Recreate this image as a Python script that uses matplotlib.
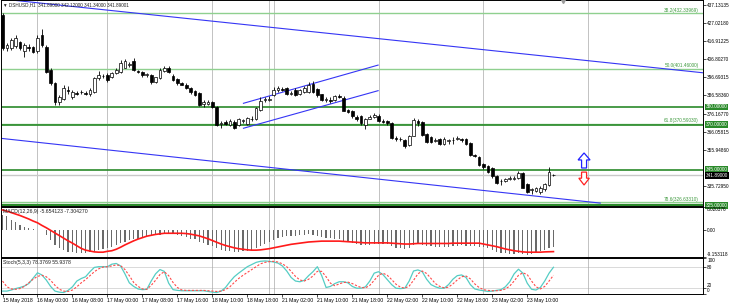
import numpy as np
import matplotlib
matplotlib.use("Agg")
import matplotlib.pyplot as plt
from matplotlib.patches import Polygon

plt.rcParams['font.family'] = ['Liberation Sans', 'DejaVu Sans']

# hourly candles DSHUSD,H1
opens = [431.4, 413.0, 413.0, 414.0, 416.3, 411.5, 413.5, 413.5, 411.0, 420.0,
         413.5, 400.5, 393.5, 382.8, 384.5, 389.5, 385.5, 388.0, 388.2, 388.0,
         387.0, 388.5, 396.0, 397.2, 397.8, 396.7, 399.0, 399.5, 402.0, 403.5,
         405.5, 400.0, 399.5, 398.0, 397.8, 394.0, 396.0, 400.0, 402.0, 397.3,
         395.5, 393.5, 392.5, 390.5, 389.0, 387.8, 381.5, 381.5, 382.5, 380.0,
         370.5, 371.5, 370.0, 371.5, 370.0, 372.0, 370.5, 373.0, 373.0, 378.5,
         383.8, 384.0, 386.8, 389.5, 390.0, 390.5, 387.5, 389.5, 387.0, 388.5,
         388.5, 393.0, 390.0, 387.0, 384.0, 384.0, 384.0, 386.0, 385.0, 378.5,
         378.0, 374.5, 375.0, 370.0, 373.5, 374.5, 375.0, 372.0, 372.0, 371.0,
         362.5, 362.0, 361.5, 359.0, 364.0, 372.0, 371.5, 365.0, 363.0, 361.0,
         362.0, 359.5, 361.0, 361.5, 362.0, 362.0, 362.0, 360.0, 353.0, 352.0,
         348.0, 347.0, 346.0, 341.5, 338.5, 338.5, 340.0, 340.0, 340.5, 343.0,
         337.0, 333.5, 333.0, 332.5, 334.0, 336.5, 342.0]
highs = [432.5, 416.0, 418.5, 420.0, 417.0, 415.5, 415.0, 414.0, 420.0, 423.5,
         414.5, 401.5, 394.0, 386.5, 392.0, 391.5, 389.5, 389.0, 389.5, 389.0,
         390.5, 397.0, 400.0, 398.5, 399.0, 399.8, 401.5, 406.0, 407.0, 405.0,
         407.5, 400.5, 400.0, 399.0, 398.5, 397.0, 401.5, 403.0, 403.0, 398.5,
         396.0, 394.0, 393.5, 391.0, 389.5, 388.5, 384.0, 384.0, 383.5, 380.5,
         372.0, 372.5, 373.0, 372.5, 374.0, 373.5, 374.5, 375.0, 380.0, 385.5,
         385.5, 386.0, 391.0, 391.5, 391.0, 391.0, 389.0, 390.5, 390.0, 391.5,
         394.0, 394.5, 390.5, 387.5, 385.5, 385.5, 386.5, 387.0, 386.0, 379.0,
         378.5, 375.5, 375.5, 374.0, 375.5, 376.5, 376.0, 373.0, 372.5, 371.5,
         363.5, 363.0, 362.0, 364.5, 374.0, 373.5, 372.0, 365.5, 363.5, 362.5,
         362.5, 363.0, 362.0, 363.0, 364.0, 362.5, 362.5, 360.5, 354.0, 352.5,
         348.5, 347.5, 346.5, 342.0, 339.5, 340.5, 341.5, 341.5, 344.0, 343.5,
         337.5, 335.0, 335.5, 336.0, 337.5, 346.5, 342.5]
lows = [412.0, 411.5, 412.0, 413.0, 412.0, 408.0, 411.5, 410.0, 410.0, 413.5,
        399.0, 392.5, 381.0, 381.0, 384.0, 387.0, 384.5, 386.5, 387.0, 386.5,
        386.0, 388.0, 395.0, 396.0, 394.0, 396.0, 398.5, 399.0, 401.5, 402.5,
        400.0, 399.0, 397.0, 397.0, 393.0, 393.5, 395.5, 399.5, 399.0, 394.5,
        392.5, 392.0, 390.0, 387.5, 386.0, 380.5, 380.0, 381.0, 379.5, 369.5,
        368.5, 370.0, 369.5, 367.5, 369.5, 371.0, 370.0, 372.0, 372.5, 378.0,
        383.0, 383.5, 386.0, 388.5, 389.0, 386.5, 386.5, 386.0, 386.5, 388.0,
        388.0, 388.0, 385.5, 383.5, 382.5, 382.0, 383.5, 385.0, 377.5, 376.5,
        374.0, 372.0, 370.0, 367.5, 373.0, 374.0, 371.5, 371.0, 370.0, 362.0,
        361.0, 361.0, 357.0, 358.0, 363.5, 369.5, 364.0, 360.0, 360.0, 360.5,
        359.0, 359.0, 359.5, 359.5, 361.5, 360.5, 359.0, 352.5, 352.0, 347.0,
        345.5, 343.0, 340.5, 337.0, 336.5, 338.0, 339.0, 339.0, 340.0, 334.5,
        332.0, 331.5, 332.5, 331.5, 333.0, 336.0, 341.5]
closes = [413.0, 414.5, 417.4, 418.5, 413.0, 414.5, 413.0, 410.7, 418.5, 414.6,
          399.5, 393.4, 382.8, 385.5, 390.6, 388.8, 388.5, 387.5, 388.5, 387.5,
          389.5, 396.0, 397.8, 397.4, 395.1, 399.0, 400.7, 404.5, 405.5, 403.8,
          400.7, 399.5, 397.8, 398.3, 394.0, 396.5, 400.7, 401.8, 399.5, 395.1,
          393.4, 392.5, 390.6, 388.3, 386.7, 381.1, 382.5, 383.0, 380.0, 370.0,
          371.0, 370.5, 372.2, 368.3, 373.3, 372.5, 373.8, 373.5, 379.5, 383.5,
          384.2, 384.5, 389.6, 390.5, 389.5, 387.0, 387.8, 386.5, 389.5, 390.5,
          392.5, 388.5, 386.5, 384.0, 384.3, 383.5, 386.0, 385.5, 378.0, 377.0,
          375.0, 373.5, 371.0, 373.5, 374.5, 375.5, 372.0, 371.5, 371.0, 362.5,
          362.0, 362.3, 358.0, 364.0, 372.5, 371.0, 364.5, 360.5, 360.5, 361.5,
          359.5, 362.0, 361.3, 361.8, 362.5, 361.5, 359.5, 353.0, 352.5, 347.5,
          346.5, 343.5, 341.5, 337.5, 338.8, 340.0, 340.3, 340.2, 343.0, 335.0,
          332.5, 334.0, 334.5, 335.0, 337.0, 343.5, 341.89]

macd_main = [5.3, 5.0, 3.6, 3.0, 1.9, 1.3, 0.7, 0.3, 0.1, 0.0,
             -1.5, -3.3, -5.0, -6.1, -6.7, -7.3, -7.6, -7.9, -7.9, -7.9,
             -7.6, -7.3, -6.7, -6.5, -6.2, -5.6, -5.0, -4.4, -3.9, -3.3,
             -3.1, -2.8, -2.4, -2.2, -2.0, -1.7, -1.6, -1.3, -1.2, -1.3,
             -1.6, -2.0, -2.2, -2.8, -3.1, -3.9, -4.4, -5.0, -5.3, -6.2,
             -6.8, -7.1, -7.2, -7.4, -7.3, -7.2, -7.0, -6.8, -6.2, -5.3,
             -4.6, -4.0, -3.3, -2.7, -2.3, -2.1, -1.9, -1.8, -1.7, -1.6,
             -1.4, -1.5, -1.8, -2.2, -2.5, -2.7, -2.8, -2.9, -3.5, -4.0,
             -4.4, -4.8, -5.2, -5.2, -5.0, -4.8, -4.8, -4.8, -4.8, -5.5,
             -5.9, -6.1, -6.4, -6.1, -5.2, -4.7, -4.9, -5.3, -5.5, -5.6,
             -5.8, -5.7, -5.6, -5.5, -5.3, -5.2, -5.3, -5.4, -5.5, -5.6,
             -5.8, -6.2, -6.7, -7.3, -7.7, -7.9, -8.0, -8.0, -7.9, -8.1,
             -8.3, -8.0, -7.6, -7.1, -6.7, -6.0, -5.654123]
macd_signal = [7.0, 6.6, 6.1, 5.6, 5.1, 4.5, 3.9, 3.2, 2.6, 1.7,
               0.9, 0.0, -0.9, -1.8, -2.7, -3.6, -4.4, -5.3, -6.2, -6.8,
               -7.1, -7.4, -7.5, -7.5, -7.2, -7.0, -6.5, -5.8, -5.0, -4.3,
               -3.6, -3.0, -2.5, -2.0, -1.7, -1.4, -1.2, -1.0, -1.0, -1.0,
               -1.0, -1.0, -1.1, -1.3, -1.6, -1.9, -2.4, -2.9, -3.5, -4.1,
               -4.7, -5.2, -5.6, -6.0, -6.3, -6.5, -6.7, -6.8, -6.8, -6.7,
               -6.5, -6.3, -6.0, -5.7, -5.4, -5.1, -4.8, -4.6, -4.4, -4.2,
               -4.0, -3.9, -3.8, -3.7, -3.7, -3.7, -3.7, -3.7, -3.8, -3.9,
               -4.0, -4.1, -4.2, -4.3, -4.3, -4.3, -4.3, -4.3, -4.3, -4.4,
               -4.5, -4.6, -4.7, -4.7, -4.6, -4.5, -4.5, -4.5, -4.5, -4.5,
               -4.5, -4.5, -4.5, -4.4, -4.4, -4.4, -4.4, -4.4, -4.4, -4.4,
               -4.7, -5.0, -5.3, -5.6, -6.0, -6.4, -6.7, -7.0, -7.2, -7.4,
               -7.5, -7.5, -7.5, -7.5, -7.4, -7.35, -7.30427]

stoch_k = [12, 12, 15, 19, 22, 26, 33, 48, 63, 57,
           43, 25, 12, 9, 8, 14, 24, 40, 47, 52,
           66, 78, 80, 80, 80, 87, 89, 82, 60, 35,
           25, 18, 16, 17, 40, 60, 72, 67, 34, 16,
           14, 13, 13, 13, 13, 13, 13, 11, 9, 8,
           12, 22, 38, 52, 62, 71, 80, 86, 92, 95,
           96, 95, 93, 90, 82, 68, 50, 40, 38, 42,
           55, 66, 80, 55, 22, 25, 33, 38, 38, 35,
           25, 20, 20, 24, 40, 62, 66, 58, 44, 30,
           20, 19, 20, 40, 68, 71, 66, 45, 30, 24,
           20, 20, 30, 45, 55, 57, 50, 30, 18, 15,
           13, 11, 12, 14, 16, 24, 38, 60, 73, 62,
           34, 17, 15, 22, 40, 62, 78.3769]
stoch_d = [40, 24, 18, 17, 19, 25, 35, 45, 53, 56,
           52, 42, 28, 17, 12, 11, 15, 24, 35, 44,
           55, 66, 74, 79, 80, 82, 85, 83, 72, 55,
           36, 25, 18, 17, 28, 42, 58, 66, 55, 36,
           22, 15, 14, 14, 14, 14, 14, 13, 12, 11,
           12, 16, 24, 36, 47, 56, 64, 72, 80, 88,
           92, 94, 95, 93, 88, 80, 67, 53, 43, 40,
           45, 54, 67, 67, 52, 34, 27, 32, 36, 37,
           33, 27, 22, 21, 28, 42, 56, 62, 56, 44,
           31, 23, 20, 26, 42, 60, 68, 61, 47, 33,
           25, 21, 23, 32, 43, 52, 54, 46, 32, 22,
           16, 14, 13, 13, 14, 18, 26, 40, 56, 63,
           58, 40, 24, 18, 25, 40, 55.9378]

time_ticks = [0, 8, 16, 24, 32, 40, 48, 56, 64, 72, 80, 88, 96, 104, 112, 120]
time_labels = ["15 May 2018", "16 May 00:00", "16 May 08:00", "17 May 00:00",
               "17 May 08:00", "17 May 16:00", "18 May 10:00", "18 May 18:00",
               "21 May 02:00", "21 May 10:00", "21 May 18:00", "22 May 02:00",
               "22 May 10:00", "22 May 18:00", "23 May 02:00", "23 May 10:00"]
separators = [8, 24, 48, 61, 62, 86, 110, 134]

price_ticks = [437.13135, 427.02180, 416.91225, 406.80270, 396.69315,
               386.58360, 376.16770, 366.05815, 355.94860, 335.72950]
levels = [380.0, 370.0, 345.0, 325.0]
fib_levels = [432.33969, 401.46000, 370.59030, 326.63310]
fib_names = ["38.2", "50.0", "61.8", "78.6"]
last_price = 341.89

# trend lines as (bar, price) pairs
channel_lines = [((-0.5, 440.4), (160.2, 399.1)),
                 ((-0.5, 362.5), (136.7, 326.3)),
                 ((55.1, 382.05), (85.9, 403.4)),
                 ((55.1, 368.1), (85.9, 389.1))]

n = len(closes)
x = np.arange(n)
o = np.array(opens); h = np.array(highs); l = np.array(lows); c = np.array(closes)

W, H = 730, 307
fig = plt.figure(figsize=(W / 100, H / 100), dpi=100)
left = 0.5 / W
wid = 702.5 / W
ax = fig.add_axes([left, 1 - 206 / H, wid, 206 / H])
ax2 = fig.add_axes([left, 1 - 257 / H, wid, 50 / H])
ax3 = fig.add_axes([left, 1 - 293.5 / H, wid, 35.5 / H])

fs = 3.7
rfs = 3.45  # right scale labels
xlim = (-0.46, 160.2)
for a in (ax, ax2, ax3):
    a.set_xlim(*xlim)
    for s in a.spines.values():
        s.set_linewidth(0.7)
    for b in separators:
        a.axvline(b, color='#707070', lw=0.6, ls=(0, (1.2, 1.2)), zorder=0)
    a.yaxis.tick_right()
    a.tick_params(axis='y', length=2, width=0.5, pad=1.0, labelsize=rfs)
    a.tick_params(axis='x', length=0, labelbottom=False)

# main chart
ax.set_ylim(324.67, 439.76)
for (x0, y0), (x1, y1) in channel_lines:
    ax.plot([x0, x1], [y0, y1], color='#3535f5', lw=0.8, zorder=2)
for lv, nm in zip(fib_levels, fib_names):
    ax.axhline(lv, color='#8fd08f', lw=1.0, zorder=1)
    ax.text(0.994, lv + 0.3, "%s(%.5f)" % (nm, lv), transform=ax.get_yaxis_transform(),
            ha='right', va='bottom', fontsize=3.4, color='#3f9a3f')
for lv in levels:
    ax.axhline(lv, color='#2a8a2a', lw=1.6 if lv == 325.0 else 1.2, zorder=1)
ax.axhline(last_price, color='#c8c8c8', lw=1.0, zorder=1)

up = c >= o
body_b = np.minimum(o, c)
body_h = np.maximum(np.abs(c - o), 0.3)
ax.vlines(x, l, h, color='black', lw=0.6, zorder=3)
ax.bar(x[up], body_h[up], bottom=body_b[up], width=0.62, color='white',
       edgecolor='black', lw=0.5, zorder=4)
ax.bar(x[~up], body_h[~up], bottom=body_b[~up], width=0.62, color='black',
       edgecolor='black', lw=0.5, zorder=4)

ax.set_yticks(price_ticks)
ax.set_yticklabels(["%.5f" % p for p in price_ticks])
for lv in levels:
    ax.text(1.0035, lv, "%.5f" % lv, transform=ax.get_yaxis_transform(), fontsize=rfs,
            color='white', va='center', ha='left', clip_on=False,
            bbox=dict(boxstyle='square,pad=0.2', fc='#2a8a2a', ec='none'))
ax.text(1.0035, last_price, "%.5f" % last_price, transform=ax.get_yaxis_transform(),
        fontsize=rfs, color='white', va='center', ha='left', clip_on=False,
        bbox=dict(boxstyle='square,pad=0.2', fc='black', ec='none'))

# buy / sell arrows
arr_bar = 133.0
up_arrow = [(arr_bar - 0.57, 345.9), (arr_bar - 0.57, 350.4), (arr_bar - 1.37, 350.4),
            (arr_bar, 354.3), (arr_bar + 1.37, 350.4), (arr_bar + 0.57, 350.4),
            (arr_bar + 0.57, 345.9)]
dn_arrow = [(arr_bar - 0.57, 343.6), (arr_bar - 0.57, 340.2), (arr_bar - 1.2, 340.2),
            (arr_bar, 336.4), (arr_bar + 1.2, 340.2), (arr_bar + 0.57, 340.2),
            (arr_bar + 0.57, 343.6)]
ax.add_patch(Polygon(up_arrow, closed=True, fc='white', ec='#2020ff', lw=0.9, zorder=5))
ax.add_patch(Polygon(dn_arrow, closed=True, fc='white', ec='#ff2020', lw=0.9, zorder=5))
ax.plot([128.2], [439.4], marker='v', ms=3, color='#9a9a9a', clip_on=False, zorder=6)

ax.text(0.004, 0.99, "\u25bc DSHUSD,H1  341.89000 342.12000 341.34000 341.89001",
        transform=ax.transAxes, ha='left', va='top', fontsize=3.3, color='#202020',
        family=['Liberation Sans', 'DejaVu Sans'], zorder=7)

# MACD
ax2.set_ylim(-9.153118, 8.020376)
ax2.bar(x, macd_main, width=0.28, color='#6a6a6a', zorder=2)
ax2.plot(x, macd_signal, color='#ff1a1a', lw=1.2, zorder=3)
ax2.set_yticks([-9.153118, 0, 8.020376])
ax2.set_yticklabels(["-9.153118", "0.00", "8.020376"])
tl = ax2.get_yticklabels()
tl[0].set_va('bottom')
tl[2].set_va('top')
ax2.text(0.004, 0.96, "MACD(12,26,9) -5.654123 -7.304270", transform=ax2.transAxes,
         ha='left', va='top', fontsize=fs, color='#202020')

# Stochastic
ax3.set_ylim(5.3, 104.2)
ax3.axhline(80, color='#a8a8a8', lw=0.6, ls=(0, (1.2, 1.2)), zorder=1)
ax3.axhline(20, color='#a8a8a8', lw=0.6, ls=(0, (1.2, 1.2)), zorder=1)
ax3.plot(x, stoch_k, color='#55cdc4', lw=0.9, zorder=3)
ax3.plot(x, stoch_d, color='#ff4a4a', lw=0.8, ls=(0, (2, 1.5)), zorder=3)
ax3.set_yticks([104.2, 80, 20, 5.3])
ax3.set_yticklabels(["100", "80", "20", "0"])
tl = ax3.get_yticklabels()
tl[0].set_va('top')
tl[2].set_va('bottom')
tl[3].set_va('bottom')
ax3.text(0.004, 0.95, "Stoch(5,3,3) 78.3769 55.9378", transform=ax3.transAxes,
         ha='left', va='top', fontsize=fs, color='#202020')

ax3.set_xticks(time_ticks)
ax3.set_xticklabels(time_labels, ha='left')
ax3.tick_params(axis='x', length=2, width=0.5, pad=1.5, labelsize=fs, labelbottom=True)

fig.savefig('out.png', dpi=100)
